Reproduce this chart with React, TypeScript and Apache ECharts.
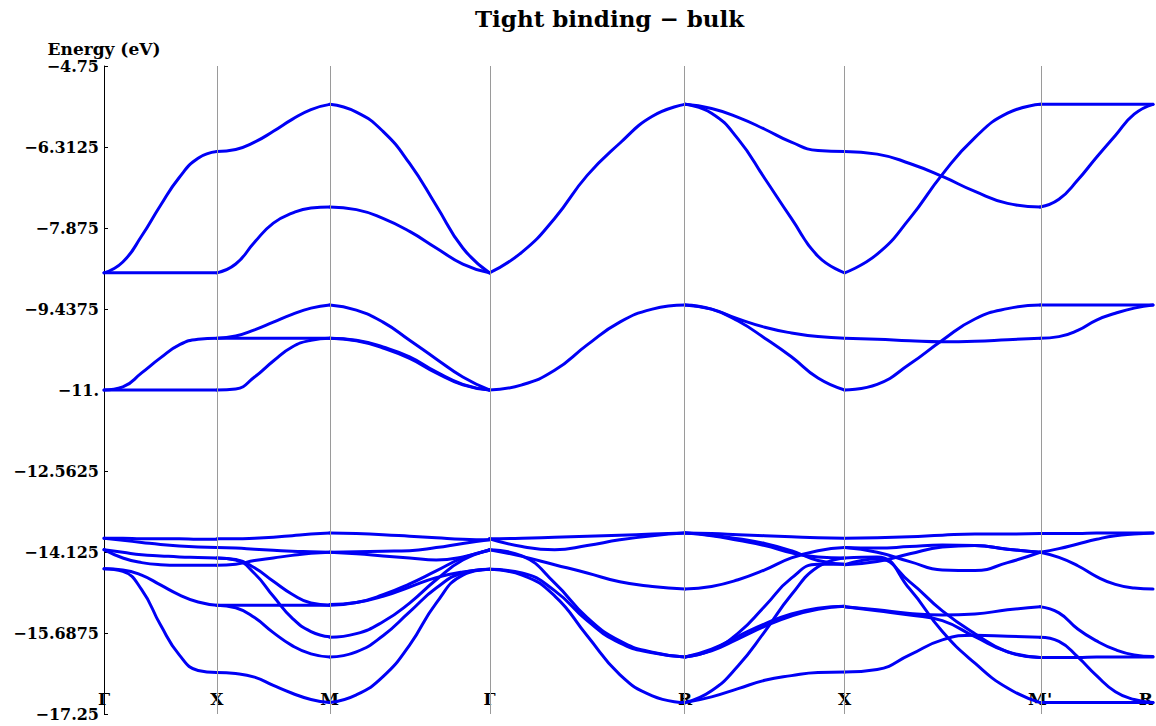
import React, { useEffect, useRef } from 'react';
import * as echarts from 'echarts';

// High-symmetry points along the k-path (path length units)
const kPoints = [0, 0.5, 1.0, 1.7071, 2.5731, 3.2802, 4.1462, 4.6462];
const kLabels = ['Γ', 'X', 'M', 'Γ', 'R', 'X', "M'", 'R'];

// Energy axis ticks
const yTicks = [-4.75, -6.3125, -7.875, -9.4375, -11, -12.5625, -14.125, -15.6875, -17.25];
const yTickLabels = ['−4.75', '−6.3125', '−7.875', '−9.4375', '−11.', '−12.5625', '−14.125', '−15.6875', '−17.25'];

// Band energies (eV) read along each segment, 7 evenly spaced samples per segment
// Γ → X
const bandsGX: number[][] = [
  [-8.74, -8.53, -8.03, -7.44, -6.90, -6.53, -6.40],
  [-8.74, -8.74, -8.74, -8.74, -8.74, -8.74, -8.74],
  [-11.0, -10.94, -10.67, -10.38, -10.13, -10.02, -10.0],
  [-11.0, -11.0, -11.0, -11.0, -11.0, -11.0, -11.0],
  [-13.86, -13.86, -13.87, -13.87, -13.87, -13.88, -13.88],
  [-13.86, -13.90, -13.94, -13.98, -14.01, -14.03, -14.04],
  [-14.08, -14.13, -14.18, -14.20, -14.22, -14.23, -14.24],
  [-14.08, -14.24, -14.33, -14.37, -14.38, -14.38, -14.38],
  [-14.45, -14.47, -14.57, -14.76, -14.95, -15.09, -15.15],
  [-14.45, -14.50, -14.85, -15.53, -16.11, -16.41, -16.45],
];
// X → M
const bandsXM: number[][] = [
  [-6.40, -6.36, -6.22, -6.01, -5.78, -5.59, -5.49],
  [-8.74, -8.57, -8.15, -7.78, -7.59, -7.49, -7.47],
  [-10.0, -9.96, -9.84, -9.69, -9.54, -9.42, -9.36],
  [-10.0, -10.0, -10.0, -10.0, -10.0, -10.0, -10.0],
  [-11.0, -10.98, -10.75, -10.44, -10.17, -10.04, -10.0],
  [-13.87, -13.87, -13.86, -13.84, -13.81, -13.78, -13.76],
  [-14.04, -14.05, -14.07, -14.09, -14.11, -14.12, -14.13],
  [-14.24, -14.27, -14.43, -14.69, -14.94, -15.11, -15.15],
  [-14.24, -14.28, -14.54, -14.98, -15.40, -15.66, -15.76],
  [-14.38, -14.36, -14.29, -14.24, -14.19, -14.15, -14.13],
  [-15.15, -15.15, -15.15, -15.15, -15.15, -15.15, -15.15],
  [-15.15, -15.20, -15.39, -15.68, -15.93, -16.09, -16.15],
  [-16.45, -16.47, -16.54, -16.70, -16.85, -16.97, -17.03],
];
// M → Γ
const bandsMG: number[][] = [
  [-5.49, -5.64, -6.01, -6.63, -7.44, -8.26, -8.74],
  [-7.47, -7.52, -7.69, -7.94, -8.26, -8.57, -8.74],
  [-9.36, -9.46, -9.69, -10.04, -10.40, -10.75, -11.0],
  [-10.0, -10.04, -10.17, -10.36, -10.65, -10.89, -11.0],
  [-10.0, -10.05, -10.19, -10.39, -10.67, -10.90, -11.0],
  [-13.76, -13.77, -13.79, -13.82, -13.85, -13.88, -13.89],
  [-14.13, -14.12, -14.11, -14.10, -14.04, -13.96, -13.89],
  [-14.13, -14.16, -14.20, -14.24, -14.28, -14.22, -14.08],
  [-15.14, -15.10, -14.98, -14.80, -14.62, -14.51, -14.46],
  [-15.15, -15.10, -14.95, -14.74, -14.49, -14.24, -14.09],
  [-15.77, -15.70, -15.47, -15.11, -14.66, -14.28, -14.09],
  [-16.15, -16.05, -15.74, -15.28, -14.82, -14.53, -14.46],
  [-17.03, -16.88, -16.53, -15.92, -15.11, -14.57, -14.46],
];
// Γ → R
const bandsGR: number[][] = [
  [-8.74, -8.34, -7.69, -6.86, -6.24, -5.72, -5.49],
  [-11.0, -10.90, -10.62, -10.13, -9.69, -9.44, -9.36],
  [-13.87, -13.86, -13.84, -13.82, -13.80, -13.78, -13.76],
  [-13.87, -14.02, -14.08, -14.00, -13.89, -13.81, -13.76],
  [-14.08, -14.21, -14.37, -14.53, -14.70, -14.79, -14.84],
  [-14.08, -14.20, -14.72, -15.39, -15.84, -16.06, -16.15],
  [-14.46, -14.53, -14.87, -15.45, -15.88, -16.07, -16.15],
  [-14.46, -14.57, -14.97, -15.74, -16.49, -16.90, -17.03],
];
// R → X
const bandsRX: number[][] = [
  [-5.49, -5.66, -6.16, -6.92, -7.69, -8.42, -8.74],
  [-5.49, -5.57, -5.74, -5.97, -6.22, -6.38, -6.40],
  [-9.36, -9.44, -9.63, -9.79, -9.90, -9.97, -10.0],
  [-9.36, -9.44, -9.67, -10.0, -10.36, -10.77, -11.0],
  [-13.76, -13.77, -13.79, -13.81, -13.83, -13.85, -13.86],
  [-13.76, -13.80, -13.87, -13.96, -14.10, -14.29, -14.36],
  [-13.76, -13.81, -13.90, -14.00, -14.14, -14.22, -14.24],
  [-14.84, -14.79, -14.66, -14.47, -14.24, -14.10, -14.04],
  [-16.15, -16.00, -15.75, -15.51, -15.32, -15.21, -15.17],
  [-16.15, -16.03, -15.80, -15.56, -15.36, -15.23, -15.17],
  [-16.15, -16.02, -15.69, -15.17, -14.63, -14.36, -14.36],
  [-17.03, -16.80, -16.32, -15.66, -14.95, -14.41, -14.24],
  [-17.03, -16.92, -16.76, -16.60, -16.51, -16.45, -16.44],
];
// X → M'
const bandsXMp: number[][] = [
  [-8.74, -8.38, -7.69, -6.84, -6.13, -5.66, -5.49],
  [-6.40, -6.45, -6.63, -6.88, -7.17, -7.40, -7.47],
  [-10.0, -10.02, -10.05, -10.07, -10.06, -10.03, -10.0],
  [-11.0, -10.89, -10.50, -10.04, -9.63, -9.43, -9.36],
  [-13.86, -13.85, -13.83, -13.80, -13.78, -13.78, -13.77],
  [-14.04, -14.05, -14.02, -13.99, -14.00, -14.07, -14.13],
  [-14.04, -14.13, -14.31, -14.47, -14.48, -14.33, -14.13],
  [-14.37, -14.31, -14.16, -14.03, -14.00, -14.07, -14.13],
  [-14.24, -14.22, -14.84, -15.66, -16.27, -16.75, -17.03],
  [-14.37, -14.26, -14.70, -15.26, -15.70, -16.05, -16.16],
  [-15.18, -15.24, -15.31, -15.34, -15.32, -15.24, -15.18],
  [-15.18, -15.26, -15.34, -15.45, -15.76, -16.05, -16.16],
  [-16.44, -16.39, -16.11, -15.82, -15.73, -15.75, -15.77],
];
// M' → R
const bandsMpR: number[][] = [
  [-5.49, -5.49, -5.49, -5.49, -5.49, -5.49, -5.49],
  [-7.47, -7.32, -6.95, -6.51, -6.09, -5.68, -5.49],
  [-9.36, -9.36, -9.36, -9.36, -9.36, -9.36, -9.36],
  [-10.0, -9.97, -9.85, -9.65, -9.52, -9.42, -9.36],
  [-13.77, -13.77, -13.77, -13.76, -13.76, -13.76, -13.76],
  [-14.13, -14.06, -13.97, -13.88, -13.81, -13.78, -13.76],
  [-14.13, -14.23, -14.39, -14.60, -14.75, -14.82, -14.84],
  [-15.18, -15.30, -15.61, -15.84, -16.01, -16.11, -16.14],
  [-15.77, -15.85, -16.15, -16.51, -16.82, -16.97, -17.03],
  [-16.16, -16.16, -16.16, -16.15, -16.15, -16.15, -16.15],
  [-17.03, -17.03, -17.03, -17.03, -17.03, -17.03, -17.03],
];

const segments = [bandsGX, bandsXM, bandsMG, bandsGR, bandsRX, bandsXMp, bandsMpR];

const FONT = 'DejaVu Serif';

export default function App() {
  const ref = useRef<HTMLDivElement>(null);
  useEffect(() => {
    document.body.style.margin = '0';
    if (!ref.current) return;
    const chart = echarts.init(ref.current, null, { renderer: 'svg' });

    const series: any[] = [];
    series.push({
      type: 'line',
      data: [[kPoints[0], -20]],
      showSymbol: false,
      symbol: 'none',
      lineStyle: { width: 0 },
      silent: true,
      z: 1,
      markLine: {
        silent: true,
        symbol: ['none', 'none'],
        label: { show: false },
        lineStyle: { color: '#9a9a9a', width: 1, type: 'solid' },
        emphasis: { disabled: true },
        data: kPoints.slice(1).map((k) => ({ xAxis: k })),
      },
    });

    segments.forEach((seg, s) => {
      const k0 = kPoints[s];
      const k1 = kPoints[s + 1];
      seg.forEach((curve) => {
        const n = curve.length;
        series.push({
          type: 'line',
          data: curve.map((e, i) => [k0 + ((k1 - k0) * i) / (n - 1), e]),
          showSymbol: false,
          symbol: 'none',
          smooth: 0.5,
          silent: true,
          z: 3,
          lineStyle: { color: '#0000f5', width: 3, cap: 'round', join: 'round' },
        });
      });
    });

    const option: any = {
      animation: false,
      backgroundColor: '#ffffff',
      title: {
        text: 'Tight binding − bulk',
        left: 470,
        top: 2,
        textStyle: { fontFamily: FONT, fontWeight: 'bold', fontSize: 23, color: '#000' },
      },
      grid: {
        left: 104,
        right: 3,
        top: 66,
        bottom: 12,
        containLabel: false,
        outerBoundsMode: 'none',
      },
      xAxis: {
        type: 'value',
        min: kPoints[0],
        max: kPoints[kPoints.length - 1],
        axisLine: { show: false },
        axisTick: { show: false },
        splitLine: { show: false },
        axisLabel: {
          customValues: kPoints,
          alignMaxLabel: 'right',
          formatter: (v: number) => {
            const i = kPoints.findIndex((k) => Math.abs(k - v) < 1e-6);
            return i >= 0 ? kLabels[i] : '';
          },
          margin: -24,
          fontFamily: FONT,
          fontWeight: 'bold',
          fontSize: 17,
          color: '#000',
        },
      },
      yAxis: {
        type: 'value',
        min: -17.25,
        max: -4.75,
        name: 'Energy (eV)',
        nameLocation: 'end',
        nameGap: 9,
        nameTextStyle: { fontFamily: FONT, fontWeight: 'bold', fontSize: 17, color: '#000' },
        axisLine: { show: true, onZero: false, lineStyle: { color: '#000', width: 1 } },
        axisTick: { show: true, inside: true, length: 4, customValues: yTicks, lineStyle: { color: '#000' } },
        splitLine: { show: false },
        axisLabel: {
          customValues: yTicks,
          formatter: (v: number) => {
            const i = yTicks.findIndex((t) => Math.abs(t - v) < 1e-6);
            return i >= 0 ? yTickLabels[i] : '';
          },
          margin: 5,
          fontFamily: FONT,
          fontWeight: 'bold',
          fontSize: 16,
          color: '#000',
        },
      },
      series,
    };
    chart.setOption(option);
    return () => chart.dispose();
  }, []);
  return <div ref={ref} style={{ position: 'absolute', left: 0, top: 0, width: 1156, height: 726, background: '#fff' }} />;
}
